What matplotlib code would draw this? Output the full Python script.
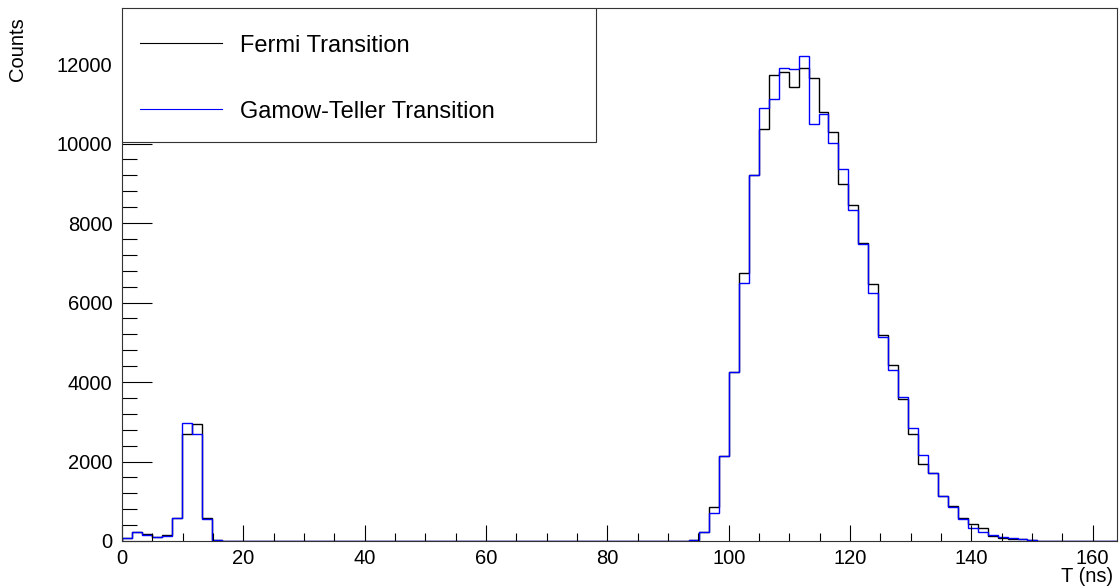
import numpy as np
import matplotlib
matplotlib.use("Agg")
import matplotlib.pyplot as plt
from matplotlib.lines import Line2D
from matplotlib.patches import Rectangle
from matplotlib.ticker import MultipleLocator

plt.rcParams['font.family'] = ['Liberation Sans', 'DejaVu Sans']

# Histogram range: 100 bins of 1.64 ns from 0 to 164 ns
t_min, t_max, n_bins = 0.0, 164.0, 100

fermi_counts = [
    80, 230, 168, 100, 143, 586, 2690, 2951, 570, 25,
    0, 0, 0, 0, 0, 0, 0, 0, 0, 0,
    0, 0, 0, 0, 0, 0, 0, 0, 0, 0,
    0, 0, 0, 0, 0, 0, 0, 0, 0, 0,
    0, 0, 0, 0, 0, 0, 0, 0, 0, 0,
    0, 0, 0, 0, 0, 0, 0, 25, 234, 850,
    2140, 4260, 6735, 9210, 10360, 11725, 11810, 11430, 11910, 11640,
    10790, 10280, 8975, 8450, 7506, 6458, 5183, 4428, 3581, 2684,
    1937, 1710, 1132, 880, 571, 420, 335, 134, 84, 59,
    42, 20, 8, 0, 0, 0, 0, 0, 0, 0,
]

gamow_teller_counts = [
    80, 218, 143, 93, 126, 568, 2977, 2692, 560, 20,
    0, 0, 0, 0, 0, 0, 0, 0, 0, 0,
    0, 0, 0, 0, 0, 0, 0, 0, 0, 0,
    0, 0, 0, 0, 0, 0, 0, 0, 0, 0,
    0, 0, 0, 0, 0, 0, 0, 0, 0, 0,
    0, 0, 0, 0, 0, 0, 0, 30, 234, 700,
    2140, 4260, 6484, 9210, 10887, 11113, 11893, 11868, 12203, 10484,
    10736, 10022, 9360, 8328, 7464, 6248, 5141, 4302, 3615, 2835,
    2164, 1703, 1140, 847, 546, 319, 235, 151, 92, 75,
    42, 25, 8, 0, 0, 0, 0, 0, 0, 0,
]

series_labels = ["Fermi Transition", "Gamow-Teller Transition"]
series_colors = ["black", "#0000ff"]
x_title = "T (ns)"
y_title = "Counts"

edges = np.linspace(t_min, t_max, n_bins + 1)

W, H = 1120, 588
fig = plt.figure(figsize=(W / 100, H / 100), dpi=100)
ax_l, ax_r, ax_t, ax_b = 122, 1117, 8, 541
ax = fig.add_axes([ax_l / W, 1 - ax_b / H, (ax_r - ax_l) / W, (ax_b - ax_t) / H])

ax.stairs(fermi_counts, edges, color=series_colors[0], lw=1.0)
ax.stairs(gamow_teller_counts, edges, color=series_colors[1], lw=1.0)

ax.set_xlim(t_min, t_max)
ax.set_ylim(0, 13410)

ax.xaxis.set_major_locator(MultipleLocator(20))
ax.xaxis.set_minor_locator(MultipleLocator(5))
ax.yaxis.set_major_locator(MultipleLocator(2000))
ax.yaxis.set_minor_locator(MultipleLocator(400))

ax.tick_params(axis='x', which='major', direction='in', length=11.5, width=0.8,
               labelsize=14.5, pad=5.5, top=False)
ax.tick_params(axis='x', which='minor', direction='in', length=5.8, width=0.8, top=False)
ax.tick_params(axis='y', which='major', direction='in', length=21.5, width=0.8,
               labelsize=14.5, pad=7, right=False)
ax.tick_params(axis='y', which='minor', direction='in', length=10.8, width=0.8, right=False)

for s in ax.spines.values():
    s.set_linewidth(0.8)
    s.set_color('#333333')

# Axis titles placed at the ends of the axes
fig.text(18 / W, 1 - 49 / H, y_title, rotation=90, ha='center', va='center', fontsize=14.5)
fig.text(1113 / W, 1 - 576 / H, x_title, ha='right', va='center', fontsize=14.5)

# Legend box in the upper-left corner
x0, x1 = 0.0, (596 - ax_l) / (ax_r - ax_l)
y_bot = (ax_b - 142) / (ax_b - ax_t)
ax.add_patch(Rectangle((x0, y_bot), x1 - x0, 1 - y_bot, transform=ax.transAxes,
                       facecolor='white', edgecolor='#333333', lw=0.8, zorder=5))
line_x = [(140 - ax_l) / (ax_r - ax_l), (222 - ax_l) / (ax_r - ax_l)]
text_x = (240 - ax_l) / (ax_r - ax_l)
for label, color, ypix in zip(series_labels, series_colors, [42.5, 109]):
    yf = (ax_b - ypix) / (ax_b - ax_t)
    ax.add_line(Line2D(line_x, [yf, yf], transform=ax.transAxes, color=color,
                       lw=0.8, zorder=6))
    yt = (ax_b - ypix - 3) / (ax_b - ax_t)
    ax.text(text_x, yt, label, transform=ax.transAxes, ha='left', va='center',
            fontsize=17, zorder=6)

fig.savefig("out.png", dpi=100)
